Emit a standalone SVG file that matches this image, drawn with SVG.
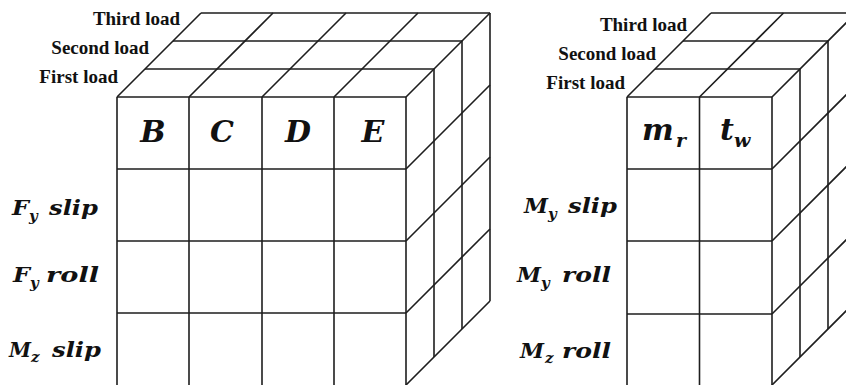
<svg xmlns="http://www.w3.org/2000/svg" width="846" height="385" viewBox="0 0 846 385">
<style>
.ln{stroke:#1e1e1e;stroke-width:1.6;fill:none}
.ld{font-family:"Liberation Serif","Times New Roman",serif;font-weight:bold;font-size:19px;fill:#111;text-anchor:end}
.mt{font-family:"DejaVu Serif",serif;font-weight:bold;font-style:italic;fill:#111}
.cap{font-size:21px}
.sub{font-size:15px}
.wd{font-size:21px}
.cell{font-size:30px;text-anchor:middle}
</style>
<rect width="846" height="385" fill="#fff"/>
<g id="left-cube" class="ln">
<path d="M117 97V385M189 97V385M262 97V385M334 97V385M406 97V385"/>
<path d="M117 97H406M117 169H406M117 241H406M117 313H406"/>
<path d="M145 69H434M173 41H462M201 13H490"/>
<path d="M117 97L201 13M189 97L273 13M262 97L346 13M334 97L418 13M406 97L490 13"/>
<path d="M434 69V357M462 41V329M490 13V301"/>
<path d="M406 169L490 85M406 241L490 157M406 313L490 229M406 385L490 301"/>
</g>
<g id="right-cube" class="ln">
<path d="M627 97V385M699.5 97V385M772 97V385"/>
<path d="M627 97H772M627 169H772M627 241H772M627 314H772"/>
<path d="M655 69H800M683 41H828M711 13H856"/>
<path d="M627 97L711 13M699.5 97L783.5 13M772 97L856 13"/>
<path d="M800 69V357M828 41V329"/>
<path d="M772 169L856 85M772 241L856 157M772 314L856 230M772 385L856 301"/>
</g>
<g id="left-load-labels">
<text class="ld" x="180" y="25">Third load</text>
<text class="ld" x="149" y="54">Second load</text>
<text class="ld" x="118" y="83">First load</text>
</g>
<g id="right-load-labels">
<text class="ld" x="687" y="31">Third load</text>
<text class="ld" x="656" y="60">Second load</text>
<text class="ld" x="625" y="89">First load</text>
</g>
<g id="left-cells" class="mt cell">
<text x="153" y="142">B</text>
<text x="222" y="142">C</text>
<text x="298" y="142">D</text>
<text x="373" y="142">E</text>
</g>
<g id="right-cells" class="mt">
<text x="642" y="140" font-size="30">m</text>
<text x="676" y="147" font-size="19">r</text>
<text x="720" y="140" font-size="30">t</text>
<text x="734" y="147" font-size="19">w</text>
</g>
<g id="row-fy-slip" class="mt">
<text class="cap" x="12" y="215" textLength="17" lengthAdjust="spacingAndGlyphs">F</text>
<text class="sub" x="29" y="221">y</text>
<text class="wd" x="49" y="215" textLength="49" lengthAdjust="spacingAndGlyphs">slip</text>
</g>
<g id="row-fy-roll" class="mt">
<text class="cap" x="13" y="282" textLength="17" lengthAdjust="spacingAndGlyphs">F</text>
<text class="sub" x="30" y="288">y</text>
<text class="wd" x="46" y="282" textLength="53" lengthAdjust="spacingAndGlyphs">roll</text>
</g>
<g id="row-mz-slip" class="mt">
<text class="cap" x="9" y="357" textLength="22" lengthAdjust="spacingAndGlyphs">M</text>
<text class="sub" x="31" y="362">z</text>
<text class="wd" x="52" y="357" textLength="49" lengthAdjust="spacingAndGlyphs">slip</text>
</g>
<g id="row-my-slip" class="mt">
<text class="cap" x="524" y="213" textLength="24" lengthAdjust="spacingAndGlyphs">M</text>
<text class="sub" x="548" y="219">y</text>
<text class="wd" x="568" y="213" textLength="49" lengthAdjust="spacingAndGlyphs">slip</text>
</g>
<g id="row-my-roll" class="mt">
<text class="cap" x="517" y="282" textLength="24" lengthAdjust="spacingAndGlyphs">M</text>
<text class="sub" x="541" y="288">y</text>
<text class="wd" x="562" y="282" textLength="49" lengthAdjust="spacingAndGlyphs">roll</text>
</g>
<g id="row-mz-roll" class="mt">
<text class="cap" x="520" y="358" textLength="24" lengthAdjust="spacingAndGlyphs">M</text>
<text class="sub" x="545" y="363">z</text>
<text class="wd" x="562" y="358" textLength="49" lengthAdjust="spacingAndGlyphs">roll</text>
</g>
</svg>
